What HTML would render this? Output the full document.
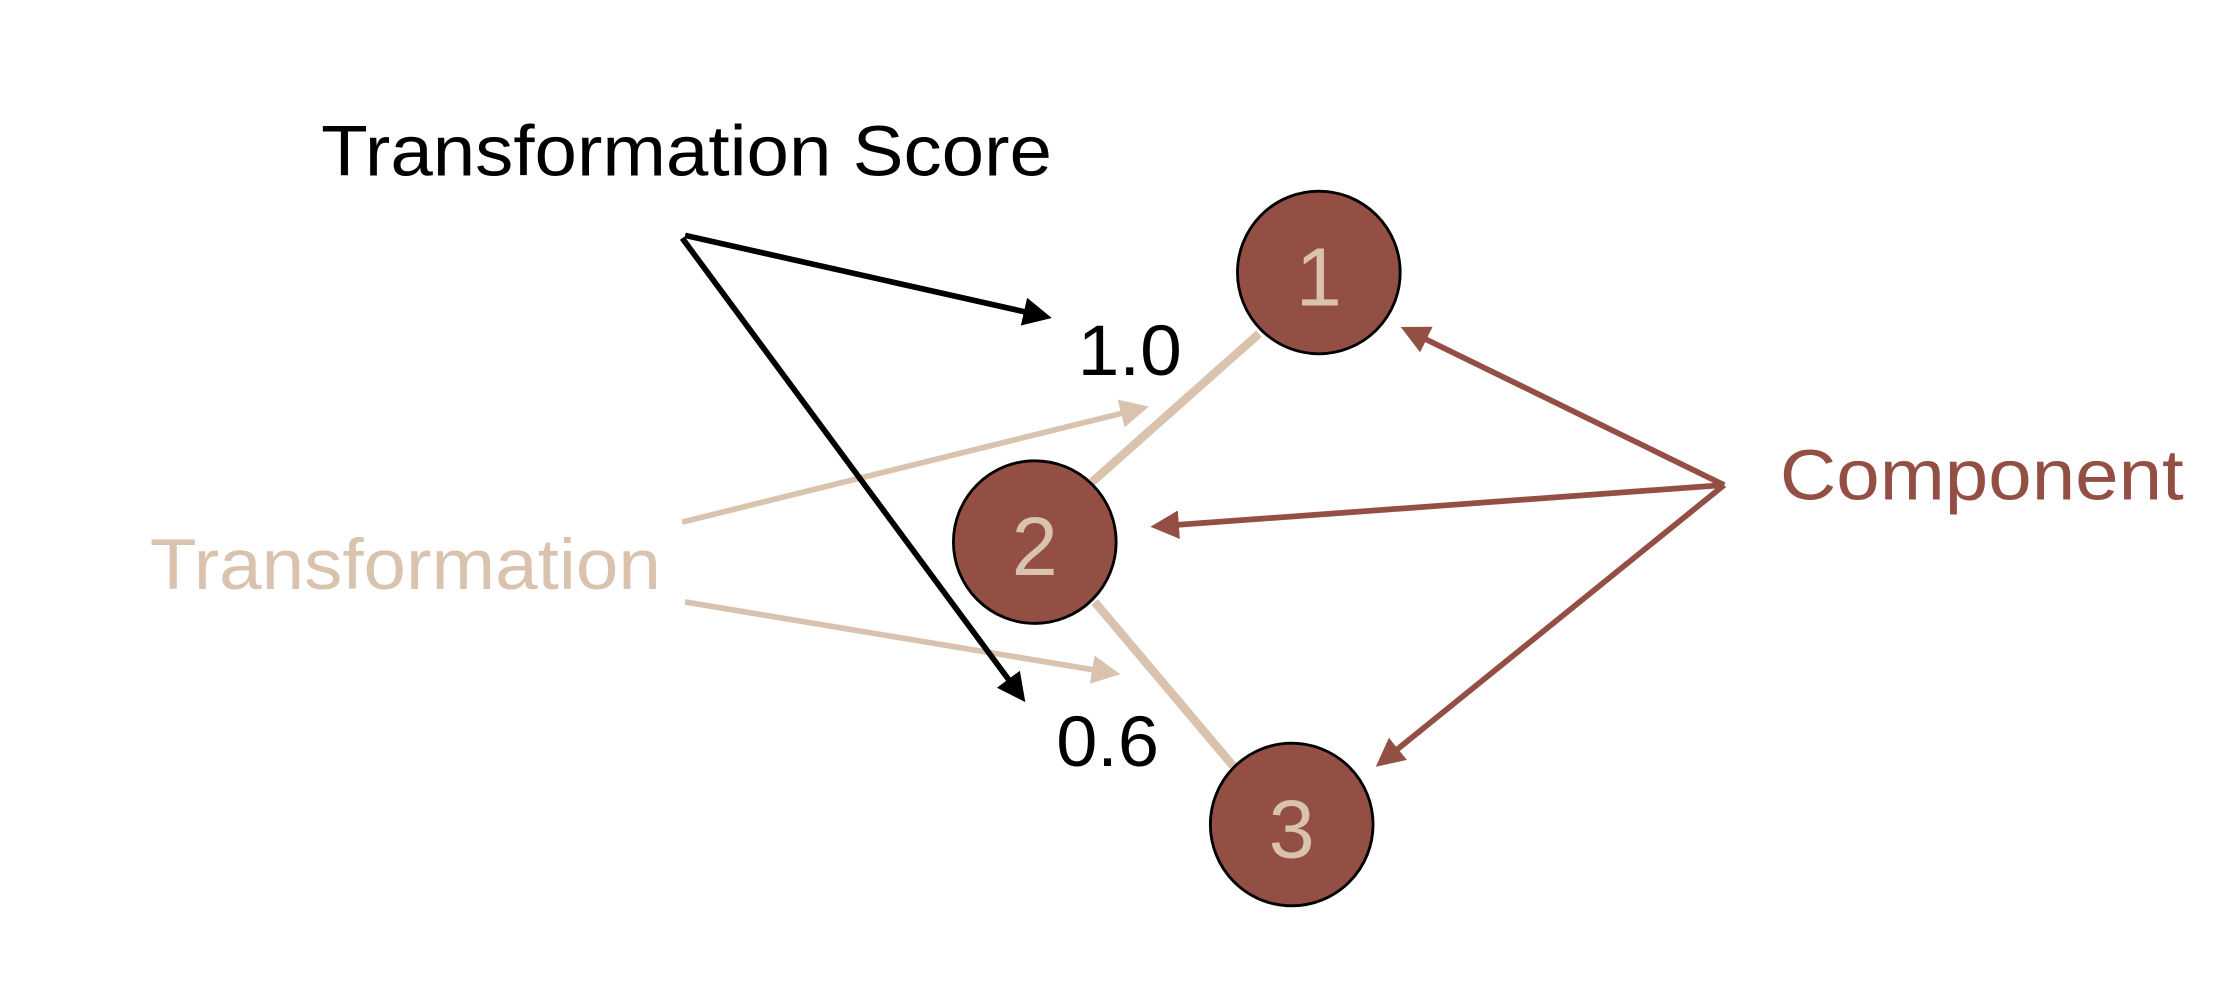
<!DOCTYPE html>
<html><head><meta charset="utf-8"><style>
html,body{margin:0;padding:0;background:#fff;}
svg{display:block;}
text{font-family:"Liberation Sans",sans-serif;}
</style></head><body>
<svg width="2238" height="990" viewBox="0 0 1568 694" preserveAspectRatio="none" xmlns="http://www.w3.org/2000/svg">
<defs>
<marker id="ab" markerWidth="5" markerHeight="5" refX="4" refY="2.5" orient="auto" markerUnits="strokeWidth"><path d="M0,0 L5,2.5 L0,5 z" fill="#000"/></marker>
<marker id="at" markerWidth="5" markerHeight="5" refX="4" refY="2.5" orient="auto" markerUnits="strokeWidth"><path d="M0,0 L5,2.5 L0,5 z" fill="#d9c3ae"/></marker>
<marker id="ar" markerWidth="5" markerHeight="5" refX="4" refY="2.5" orient="auto" markerUnits="strokeWidth"><path d="M0,0 L5,2.5 L0,5 z" fill="#934f44"/></marker>
</defs>
<text x="225" y="123" font-size="50" fill="#000" textLength="512" lengthAdjust="spacingAndGlyphs">Transformation Score</text>
<text x="105" y="413" font-size="50" fill="#d9c3ae" textLength="358" lengthAdjust="spacingAndGlyphs">Transformation</text>
<text x="1247" y="350" font-size="50" fill="#934f44" textLength="283" lengthAdjust="spacingAndGlyphs">Component</text>
<text x="755" y="263" font-size="50" fill="#000" textLength="73" lengthAdjust="spacingAndGlyphs">1.0</text>
<text x="740" y="537" font-size="50" fill="#000" textLength="72" lengthAdjust="spacingAndGlyphs">0.6</text>
<line x1="882" y1="234" x2="765" y2="338" stroke="#d9c3ae" stroke-width="6"/>
<line x1="767" y1="422" x2="864" y2="537" stroke="#d9c3ae" stroke-width="6"/>
<line x1="478" y1="366" x2="801" y2="286" stroke="#d9c3ae" stroke-width="4" marker-end="url(#at)"/>
<line x1="480" y1="422" x2="781" y2="472" stroke="#d9c3ae" stroke-width="4" marker-end="url(#at)"/>
<line x1="480" y1="165" x2="733" y2="222" stroke="#000" stroke-width="4" marker-end="url(#ab)"/>
<line x1="478" y1="167" x2="716" y2="489" stroke="#000" stroke-width="4" marker-end="url(#ab)"/>
<line x1="1208" y1="340" x2="985" y2="231" stroke="#934f44" stroke-width="4" marker-end="url(#ar)"/>
<line x1="1208" y1="340" x2="810" y2="369" stroke="#934f44" stroke-width="4" marker-end="url(#ar)"/>
<line x1="1208" y1="340" x2="967" y2="535" stroke="#934f44" stroke-width="4" marker-end="url(#ar)"/>
<circle cx="924" cy="191" r="57" fill="#934f44" stroke="#000" stroke-width="2"/>
<circle cx="725" cy="380" r="57" fill="#934f44" stroke="#000" stroke-width="2"/>
<circle cx="905" cy="578" r="57" fill="#934f44" stroke="#000" stroke-width="2"/>
<text x="924" y="214" font-size="58" fill="#d9c3ae" text-anchor="middle">1</text>
<text x="725" y="403" font-size="58" fill="#d9c3ae" text-anchor="middle">2</text>
<text x="905" y="601" font-size="58" fill="#d9c3ae" text-anchor="middle">3</text>
</svg>
</body></html>
